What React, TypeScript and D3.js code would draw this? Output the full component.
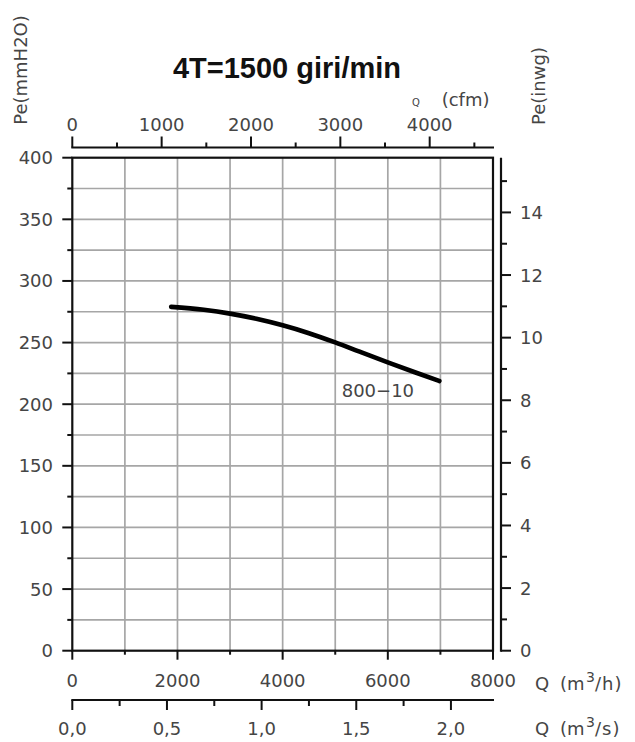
import React from "react";
import * as d3 from "d3";

const title = "4T=1500 giri/min";
const curveName = "800\u221210";
const curveQ = [1880, 2500, 3000, 3500, 4000, 4500, 5000, 5500, 6000, 6500, 6980];
const curvePe = [279, 276.6, 273.5, 269.3, 264, 257.6, 250.1, 242, 234, 226.1, 218.8];

const qhTicks = [0, 1000, 2000, 3000, 4000, 5000, 6000, 7000, 8000];
const qhLabels = [0, 2000, 4000, 6000, 8000];
const peTicks = d3.range(0, 401, 25);
const peLabels = [0, 50, 100, 150, 200, 250, 300, 350, 400];
const cfmTicks = d3.range(0, 4501, 500);
const cfmLabels = [0, 1000, 2000, 3000, 4000];
const qsTicks = [0, 0.25, 0.5, 0.75, 1, 1.25, 1.5, 1.75, 2];
const qsLabels = ["0,0", "0,5", "1,0", "1,5", "2,0"];
const qsLabelValues = [0, 0.5, 1, 1.5, 2];
const inwgTicks = d3.range(0, 16, 1);
const inwgLabels = [0, 2, 4, 6, 8, 10, 12, 14];

const FONT = "'DejaVu Sans', sans-serif";
const TXT = "#454545";

export default function App() {
  const x = d3.scaleLinear().domain([0, 8000]).range([72.3, 493]);
  const y = d3.scaleLinear().domain([0, 400]).range([650.7, 157.7]);
  const xCfm = d3.scaleLinear().domain([0, 8000 / 1.69901]).range([72.3, 493]);
  const xQs = d3.scaleLinear().domain([0, 8000 / 3600]).range([72.3, 493]);
  const yIn = d3.scaleLinear().domain([0, 400 / 25.4]).range([650.7, 157.7]);

  const pts = curveQ.map((q, i) => [q, curvePe[i]] as [number, number]);
  const line = d3
    .line<[number, number]>()
    .x((d) => x(d[0]))
    .y((d) => y(d[1]))
    .curve(d3.curveMonotoneX);

  const topY = 147.5;
  const bottomY = 650.7;
  const qsY = 700;
  const rightX = 501;

  return (
    <svg
      width={635}
      height={742}
      style={{ position: "absolute", left: 0, top: 0, background: "#fff" }}
      fontFamily={FONT}
    >
      <rect x={0} y={0} width={635} height={742} fill="#fff" />
      {/* title */}
      <text
        x={287}
        y={78}
        textAnchor="middle"
        fontFamily="'Liberation Sans', Arial, sans-serif"
        fontWeight="bold"
        fontSize={29}
        fill="#111"
      >
        {title}
      </text>

      {/* grid */}
      {qhTicks.slice(1, -1).map((t) => (
        <line key={"gv" + t} x1={x(t)} x2={x(t)} y1={y(400)} y2={y(0)} stroke="#a6a6a6" strokeWidth={1.7} />
      ))}
      {peTicks.slice(1, -1).map((t) => (
        <line key={"gh" + t} x1={x(0)} x2={x(8000)} y1={y(t)} y2={y(t)} stroke="#a6a6a6" strokeWidth={1.7} />
      ))}

      {/* plot frame */}
      <rect
        x={x(0)}
        y={y(400)}
        width={x(8000) - x(0)}
        height={y(0) - y(400)}
        fill="none"
        stroke="#111"
        strokeWidth={2.2}
      />

      {/* left ticks */}
      {peTicks.map((t) => (
        <line
          key={"lt" + t}
          x1={x(0) - (t % 50 === 0 ? 10 : 5)}
          x2={x(0)}
          y1={y(t)}
          y2={y(t)}
          stroke="#111"
          strokeWidth={2}
        />
      ))}
      {peLabels.map((t) => (
        <text key={"ll" + t} x={53} y={y(t) + 6.5} textAnchor="end" fontSize={18} fill={TXT}>
          {t}
        </text>
      ))}

      {/* top cfm axis */}
      <line x1={xCfm(0) - 1} x2={x(8000) + 1} y1={topY} y2={topY} stroke="#111" strokeWidth={2.2} />
      {cfmTicks.map((t) => (
        <line
          key={"ct" + t}
          x1={xCfm(t)}
          x2={xCfm(t)}
          y1={topY}
          y2={topY - (t % 1000 === 0 ? 11 : 5)}
          stroke="#111"
          strokeWidth={2}
        />
      ))}
      {cfmLabels.map((t) => (
        <text key={"cl" + t} x={xCfm(t)} y={131.2} textAnchor="middle" fontSize={18} fill={TXT}>
          {t}
        </text>
      ))}
      <text x={412} y={106} fontSize={10} fill={TXT}>
        Q
      </text>
      <text x={441.7} y={105.7} fontSize={18} fill={TXT}>
        (cfm)
      </text>

      {/* bottom m3/h axis ticks */}
      {qhTicks.map((t) => (
        <line
          key={"bt" + t}
          x1={x(t)}
          x2={x(t)}
          y1={bottomY}
          y2={bottomY + (t % 2000 === 0 ? 9 : 4)}
          stroke="#111"
          strokeWidth={2}
        />
      ))}
      {qhLabels.map((t) => (
        <text key={"bl" + t} x={x(t)} y={686.5} textAnchor="middle" fontSize={18} fill={TXT}>
          {t}
        </text>
      ))}
      <text y={690} fontSize={18} fill={TXT}>
        <tspan x={535}>Q</tspan>
        <tspan x={560}>(m</tspan>
        <tspan x={586} dy={-8} fontSize={14}>3</tspan>
        <tspan x={595} dy={8} letterSpacing={1}>/h)</tspan>
      </text>

      {/* m3/s axis */}
      <line x1={xQs(0) - 1} x2={x(8000) + 1} y1={qsY} y2={qsY} stroke="#111" strokeWidth={2.2} />
      {qsTicks.map((t, i) => (
        <line
          key={"st" + t}
          x1={xQs(t)}
          x2={xQs(t)}
          y1={qsY}
          y2={qsY + (i % 2 === 0 ? 10 : 6)}
          stroke="#111"
          strokeWidth={2}
        />
      ))}
      {qsLabelValues.map((v, i) => (
        <text key={"sl" + v} x={xQs(v)} y={735} textAnchor="middle" fontSize={18} fill={TXT}>
          {qsLabels[i]}
        </text>
      ))}
      <text y={735} fontSize={18} fill={TXT}>
        <tspan x={535}>Q</tspan>
        <tspan x={560}>(m</tspan>
        <tspan x={586} dy={-8} fontSize={14}>3</tspan>
        <tspan x={595} dy={8} letterSpacing={1}>/s)</tspan>
      </text>

      {/* right inwg axis */}
      <line x1={rightX} x2={rightX} y1={y(400)} y2={y(0) + 1} stroke="#111" strokeWidth={2.2} />
      {inwgTicks.map((t) => (
        <line
          key={"rt" + t}
          x1={rightX}
          x2={rightX + (t % 2 === 0 ? 10 : 6)}
          y1={yIn(t)}
          y2={yIn(t)}
          stroke="#111"
          strokeWidth={2}
        />
      ))}
      {inwgLabels.map((t) => (
        <text key={"rl" + t} x={520} y={yIn(t) + 6.5} fontSize={18} fill={TXT}>
          {t}
        </text>
      ))}

      {/* axis titles */}
      <text transform="translate(26.5,70) rotate(-90)" textAnchor="middle" fontSize={18} fill={TXT}>
        Pe(mmH2O)
      </text>
      <text transform="translate(545,86) rotate(-90)" textAnchor="middle" fontSize={18} fill={TXT}>
        Pe(inwg)
      </text>

      {/* curve */}
      <path d={line(pts) || ""} fill="none" stroke="#000" strokeWidth={4.6} strokeLinecap="round" />
      <text x={341.7} y={396.5} fontSize={18} fill={TXT}>
        {curveName}
      </text>
    </svg>
  );
}
